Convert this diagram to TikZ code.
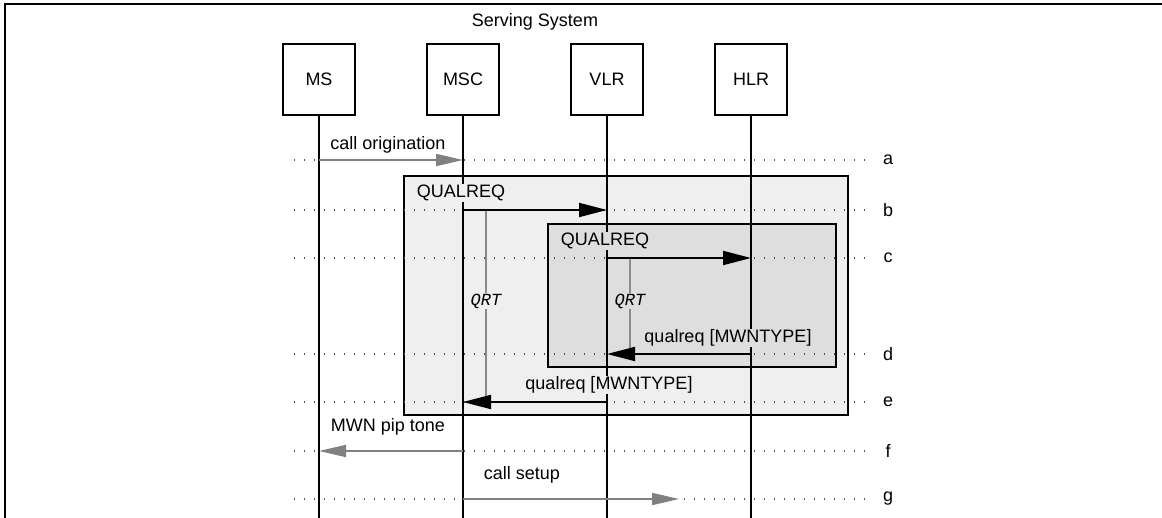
\documentclass[tikz,border=0pt]{standalone}
\usepackage{fontspec}
\setmainfont{Liberation Sans}
\newfontfamily\qrtfont{Liberation Mono}
\usetikzlibrary{arrows.meta}
\definecolor{outerfill}{HTML}{EFEFEF}
\definecolor{innerfill}{HTML}{DEDEDE}
\definecolor{msggray}{HTML}{808080}
\definecolor{qrtgray}{HTML}{8A8A8A}
\definecolor{dotgray}{HTML}{505050}
\begin{document}
\begin{tikzpicture}[x=1pt,y=-1pt,
  every node/.style={font=\fontsize{18}{21}\selectfont},
  entity/.style={draw, line width=1.5pt, minimum width=72pt, minimum height=71pt, inner sep=0pt},
  lifeline/.style={line width=1.5pt},
  rowdots/.style={draw=dotgray, line width=1.1pt, dash pattern=on 1pt off 9pt},
  msgblack/.style={line width=1.8pt, -{Triangle[length=28pt,width=14pt]}},
  msggrey/.style={line width=1.8pt, draw=msggray, -{Triangle[length=27pt,width=12pt]}, fill=msggray},
  qrtline/.style={draw=qrtgray, line width=1.6pt},
  qrtlabel/.style={font=\qrtfont\itshape\fontsize{17}{20}\selectfont, inner sep=1pt},
  msglabel/.style={inner sep=1pt},
  framebox/.style={draw, line width=1.6pt},
  rowlabel/.style={anchor=center},
]
\useasboundingbox (0,0) rectangle (1162,518);
% outer frame (only top and left visible)
\draw[line width=2.5pt] (5,518) -- (5,4) -- (1162,4);

% rows
\coordinate (ra) at (0,160);
\coordinate (rb) at (0,210);
\coordinate (rc) at (0,258);
\coordinate (rd) at (0,354);
\coordinate (re) at (0,402);
\coordinate (rf) at (0,451);
\coordinate (rg) at (0,499);
\coordinate (bot) at (0,518);
\coordinate (dl) at (294,0);
\coordinate (dr) at (866,0);
\coordinate (mid) at (679,0);

% grouping boxes
\draw[framebox, fill=outerfill] (404,176) rectangle (848,415);
\draw[framebox, fill=innerfill] (548,224) rectangle (836,367);

% entities
\node (title) at (535,22) {Serving System};
\node[entity] (MS)  at (319,79.5) {MS};
\node[entity] (MSC) at (463,79.5) {MSC};
\node[entity] (VLR) at (607,79.5) {VLR};
\node[entity] (HLR) at (751,79.5) {HLR};

% dotted row lines and labels
\foreach \r/\l in {ra/a, rb/b, rc/c, rd/d, re/e, rf/f, rg/g} {
  \draw[rowdots] (\r -| dl) -- (\r -| dr);
  \node[rowlabel] (lab\l) at ([xshift=22pt]\r -| dr) {\l};
}

% lifelines
\foreach \n in {MS, MSC, VLR, HLR} {
  \draw[lifeline] (\n.south) -- (\n.south |- bot);
}

% timers
\node[qrtlabel, fill=outerfill] (qrt1) at (486,301) {QRT};
\draw[qrtline] (486,210) -- (qrt1.north);
\draw[qrtline] (qrt1.south) -- (486,402);
\node[qrtlabel, fill=innerfill] (qrt2) at (630,301) {QRT};
\draw[qrtline] (630,258) -- (qrt2.north);
\draw[qrtline] (qrt2.south) -- (630,354);

% messages
\draw[msggrey] (MS |- ra) -- (MSC |- ra);
\node[msglabel, fill=white] (m1) at (388,145) {call origination};

\draw[msgblack] (MSC |- rb) -- (VLR |- rb);
\node[msglabel, fill=outerfill] (m2) at (461,193) {QUALREQ};

\draw[msgblack] (VLR |- rc) -- (HLR |- rc);
\node[msglabel, fill=innerfill] (m3) at (605,241) {QUALREQ};

\draw[msgblack] (HLR |- rd) -- (VLR |- rd);
\node[msglabel, fill=innerfill] (m4) at (728,338) {qualreq [MWNTYPE]};

\draw[msgblack] (VLR |- re) -- (MSC |- re);
\node[msglabel, fill=outerfill] (m5) at (609,385) {qualreq [MWNTYPE]};

\draw[msggrey] (MSC |- rf) -- (MS |- rf);
\node[msglabel, fill=white] (m6) at (388,427) {MWN pip tone};

\draw[msggrey] (MSC |- rg) -- (mid |- rg);
\node[msglabel, fill=white] (m7) at (522,475) {call setup};
\end{tikzpicture}
\end{document}
